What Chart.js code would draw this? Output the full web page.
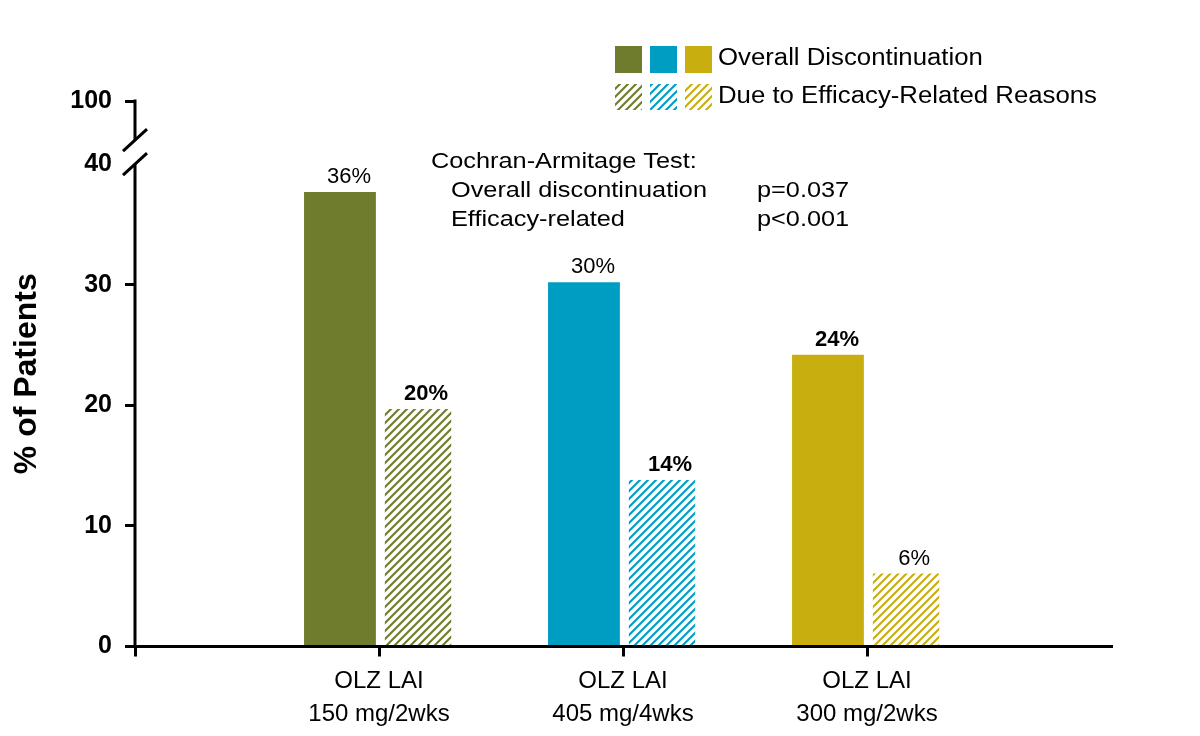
<!DOCTYPE html>
<html><head><meta charset="utf-8">
<script src="https://cdn.jsdelivr.net/npm/chart.js@4/dist/chart.umd.min.js"></script>
<style>html,body{margin:0;padding:0;background:#fff;overflow:hidden}</style>
</head><body>
<canvas id="c" width="1200" height="736"></canvas>
<script>
// ---- data ----
const categories = [['OLZ LAI','150 mg/2wks'],['OLZ LAI','405 mg/4wks'],['OLZ LAI','300 mg/2wks']];
const overallValues = [37.7, 30.2, 24.2];
const efficacyValues = [19.7, 13.8, 6.05];
const overallLabels = ['36%','30%','24%'];
const efficacyLabels = ['20%','14%','6%'];
const yTickValues = [0, 10, 20, 30, 40];
const yBreakTopValue = 45.24;   // drawn position of the tick shown above the axis break
const yBreakTopLabel = '100';
const yBreakFrom = 40, yBreakTo = 42;
const seriesNames = ['Overall Discontinuation','Due to Efficacy-Related Reasons'];
const statTitle = 'Cochran-Armitage Test:';
const statRows = [['Overall discontinuation','p=0.037'],['Efficacy-related','p<0.001']];

// ---- styles ----
const FONT = "'Liberation Sans', Arial, sans-serif";
const colors = ['#6F7B2D','#009DC3','#C9AE10'];
const overallBold = [false, false, true];
const efficacyBold = [true, true, false];

function hatch(color){
  const s = 8, c = document.createElement('canvas'); c.width = s; c.height = s;
  const g = c.getContext('2d');
  g.fillStyle = '#fff'; g.fillRect(0,0,s,s);
  g.strokeStyle = color; g.lineWidth = 2.1; g.lineCap = 'square';
  g.beginPath();
  g.moveTo(0, s); g.lineTo(s, 0);
  g.moveTo(-1, 1); g.lineTo(1, -1);
  g.moveTo(s-1, s+1); g.lineTo(s+1, s-1);
  g.stroke();
  return document.getElementById('c').getContext('2d').createPattern(c, 'repeat');
}
const patterns = colors.map(hatch);

const labels = ['', ...categories, ''];
const pad = a => [null, ...a, null];

function sText(ctx, text, x, y, font, sx, align){
  ctx.save();
  ctx.font = font; ctx.fillStyle = '#000'; ctx.textBaseline = 'middle'; ctx.textAlign = align || 'left';
  ctx.translate(x, y); ctx.scale(sx, 1); ctx.fillText(text, 0, 0);
  ctx.restore();
}

const decor = {
  id: 'decor',
  afterDraw(chart){
    const ctx = chart.ctx, y = chart.scales.y, area = chart.chartArea;
    const ax = area.left;
    // broken y axis
    const pTop = y.getPixelForValue(yBreakTopValue);
    const pB1 = y.getPixelForValue(yBreakTo);
    const pB2 = y.getPixelForValue(yBreakFrom);
    const p0 = y.getPixelForValue(0);
    ctx.save();
    ctx.strokeStyle = '#000'; ctx.lineWidth = 3; ctx.lineCap = 'butt';
    ctx.beginPath();
    ctx.moveTo(ax, pTop - 1.5); ctx.lineTo(ax, pB1);
    ctx.moveTo(ax, pB2); ctx.lineTo(ax, p0 + 1.5);
    ctx.stroke();
    ctx.beginPath();
    [pB1, pB2].forEach(p => { ctx.moveTo(ax - 12, p + 11); ctx.lineTo(ax + 12, p - 11); });
    ctx.stroke();
    ctx.restore();

    // value labels
    const m0 = chart.getDatasetMeta(0), m1 = chart.getDatasetMeta(1);
    overallLabels.forEach((t, i) => {
      const el = m0.data[i + 1];
      sText(ctx, t, el.x + 9, el.y - 15, (overallBold[i] ? 'bold ' : '') + '22px ' + FONT, 1, 'center');
    });
    efficacyLabels.forEach((t, i) => {
      const el = m1.data[i + 1];
      sText(ctx, t, el.x + 8, el.y - 15, (efficacyBold[i] ? 'bold ' : '') + '22px ' + FONT, 1, 'center');
    });

    // legend
    ctx.save();
    colors.forEach((c, i) => {
      const bx = 615 + i * 35;
      ctx.fillStyle = c; ctx.fillRect(bx, 46, 27, 27);
      ctx.fillStyle = patterns[i]; ctx.fillRect(bx, 84, 27, 26);
    });
    ctx.restore();
    sText(ctx, seriesNames[0], 718, 59, '23px ' + FONT, 1.12);
    sText(ctx, seriesNames[1], 718, 97, '23px ' + FONT, 1.12);

    // statistics note
    sText(ctx, statTitle, 431, 162, '22px ' + FONT, 1.15);
    statRows.forEach((r, i) => {
      sText(ctx, r[0], 451, 191 + i * 29, '22px ' + FONT, 1.15);
      sText(ctx, r[1], 757, 191 + i * 29, '22px ' + FONT, 1.15);
    });
  }
};

new Chart(document.getElementById('c'), {
  type: 'bar',
  data: {
    labels,
    datasets: [
      { label: seriesNames[0], data: pad(overallValues),
        backgroundColor: c => colors[c.dataIndex - 1] || '#000',
        barPercentage: 0.92, categoryPercentage: 0.64, borderWidth: 0 },
      { label: seriesNames[1], data: pad(efficacyValues),
        backgroundColor: c => patterns[c.dataIndex - 1] || '#000',
        barPercentage: 0.85, categoryPercentage: 0.64, borderWidth: 0 }
    ]
  },
  options: {
    responsive: false, animation: false, devicePixelRatio: 1,
    layout: { padding: { top: 101, right: 89, bottom: 0, left: 0 } },
    plugins: { legend: { display: false }, tooltip: { enabled: false } },
    scales: {
      x: {
        offset: false,
        grid: { offset: false, drawOnChartArea: false, drawTicks: true, tickLength: 10, lineWidth: 3,
                color: c => c.index === labels.length - 1 ? 'rgba(0,0,0,0)' : '#000' },
        border: { display: true, color: '#000', width: 3 },
        ticks: { color: '#000', font: { family: FONT, size: 24, lineHeight: 1.38 }, padding: 8,
                 maxRotation: 0, autoSkip: false },
        afterFit: s => { s.height = 89.5; }
      },
      y: {
        min: 0, max: yBreakTopValue,
        afterBuildTicks: s => { s.ticks = [...yTickValues, yBreakTopValue].map(v => ({ value: v })); },
        ticks: { color: '#000', font: { family: FONT, size: 25, weight: 'bold' }, padding: 13,
                 callback: v => v === yBreakTopValue ? yBreakTopLabel : String(v) },
        grid: { drawOnChartArea: false, tickLength: 10, lineWidth: 3,
                color: c => (c.tick && c.tick.value === yBreakFrom) ? 'rgba(0,0,0,0)' : '#000' },
        border: { display: false },
        title: { display: true, text: '% of Patients', color: '#000',
                 font: { family: FONT, size: 32, weight: 'bold' }, padding: { top: 8, bottom: 0 } },
        afterFit: s => { s.width = 135; }
      }
    }
  },
  plugins: [decor]
});
</script>
</body></html>
